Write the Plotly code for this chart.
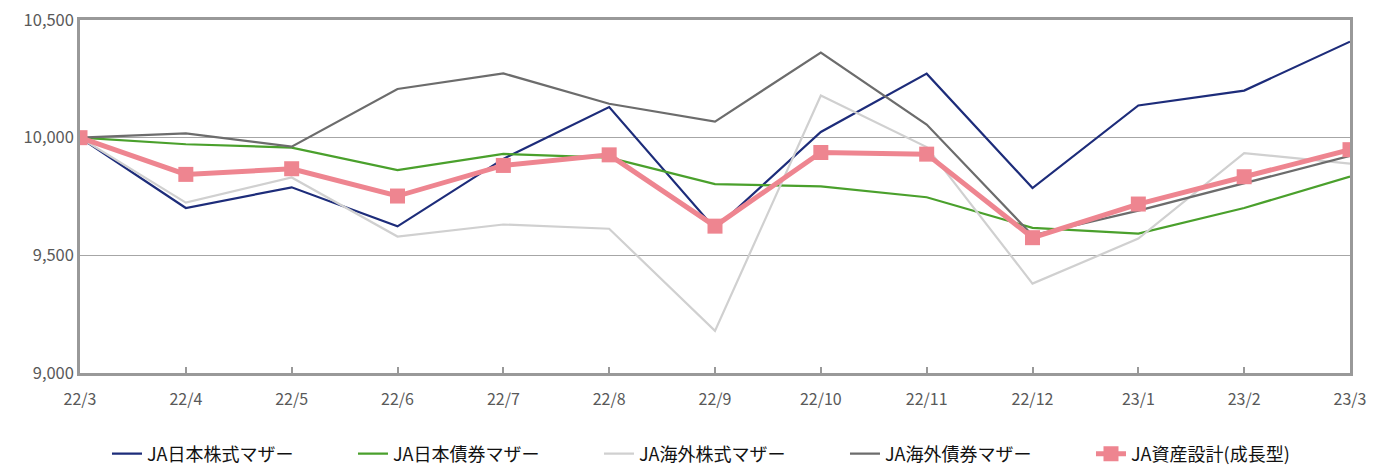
import plotly.graph_objects as go

months = ["22/3", "22/4", "22/5", "22/6", "22/7", "22/8", "22/9",
          "22/10", "22/11", "22/12", "23/1", "23/2", "23/3"]

jp_equity = [10000, 9701, 9789, 9623, 9910, 10130, 9613, 10024, 10272, 9786, 10137, 10200, 10408]
jp_bond = [10000, 9972, 9958, 9862, 9931, 9915, 9803, 9793, 9747, 9617, 9592, 9701, 9835]
fx_equity = [10000, 9724, 9831, 9580, 9631, 9613, 9179, 10179, 9960, 9380, 9571, 9934, 9890]
fx_bond = [10000, 10018, 9962, 10207, 10273, 10144, 10068, 10362, 10056, 9585, 9690, 9806, 9923]
growth = [10000, 9844, 9868, 9752, 9882, 9927, 9624, 9937, 9930, 9575, 9718, 9834, 9949]

names = ["JA日本株式マザー", "JA日本債券マザー", "JA海外株式マザー", "JA海外債券マザー", "JA資産設計(成長型)"]
colors = ["#1D2C7A", "#4AA02C", "#D0D0D0", "#6C6C6C", "#EE8590"]

FONT = "Noto Sans CJK JP"

fig = go.Figure()
for name, ys, col in zip(names[:4], [jp_equity, jp_bond, fx_equity, fx_bond], colors[:4]):
    fig.add_trace(go.Scatter(x=months, y=ys, name=name, mode="lines",
                             line=dict(color=col, width=2.2)))
fig.add_trace(go.Scatter(x=months, y=growth, name=names[4], mode="lines+markers",
                         line=dict(color=colors[4], width=5),
                         marker=dict(symbol="square", size=15, color=colors[4])))

fig.update_layout(
    width=1390, height=468,
    margin=dict(l=72, r=48, t=12, b=103),
    paper_bgcolor="white", plot_bgcolor="white",
    font=dict(family=FONT, color="#595959", size=15),
    showlegend=True,
    legend=dict(orientation="h", x=0.5055, xanchor="center",
                yref="container", y=0.047, yanchor="middle",
                font=dict(family=FONT, size=18, color="#111111"),
                entrywidth=201, entrywidthmode="pixels",
                traceorder="normal"),
    xaxis=dict(type="category", range=[0, 12], showgrid=False, automargin=False,
               showline=True, linecolor="#999999", linewidth=2.5, mirror=True,
               ticks="inside", ticklen=6, tickcolor="#999999", tickwidth=1.5,
               ticklabelstandoff=10, ticklabeloverflow="allow",
               tickfont=dict(family=FONT, size=16, color="#595959")),
    yaxis=dict(range=[9000, 10500], tickvals=[9000, 9500, 10000, 10500],
               ticktext=["9,000", "9,500", "10,000", "10,500"], automargin=False,
               showgrid=True, gridcolor="#A6A6A6", gridwidth=1,
               showline=True, linecolor="#999999", linewidth=2.5, mirror=True,
               ticks="", zeroline=False, ticklabeloverflow="allow",
               tickfont=dict(family=FONT, size=16.5, color="#595959")),
)

fig.write_html("out.html")
